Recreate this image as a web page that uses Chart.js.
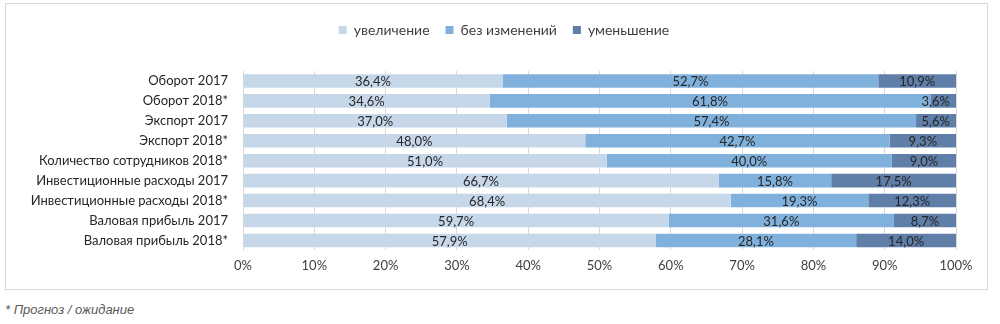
<!DOCTYPE html>
<html>
<head>
<meta charset="utf-8">
<script src="https://cdn.jsdelivr.net/npm/chart.js@4"></script>
<style>
  body { margin: 0; background: #fff; width: 1000px; height: 324px; overflow: hidden; }
  #box { position: absolute; left: 5px; top: 3px; width: 981px; height: 285px; border: 1px solid #d9d9d9; }
  #note { position: absolute; left: 5px; top: 302px; font: italic 13px "Liberation Sans", Arial, sans-serif; color: #595959; }
</style>
</head>
<body>
<div id="box"><canvas id="chart"></canvas></div>
<div id="note">* Прогноз / ожидание</div>
<script>
// --- DATA ---
const categories = [
    "Оборот 2017",
    "Оборот 2018*",
    "Экспорт 2017",
    "Экспорт 2018*",
    "Количество сотрудников 2018*",
    "Инвестиционные расходы 2017",
    "Инвестиционные расходы 2018*",
    "Валовая прибыль 2017",
    "Валовая прибыль 2018*"
];
const seriesNames = ["увеличение", "без изменений", "уменьшение"];
const increase = [36.4, 34.6, 37.0, 48.0, 51.0, 66.7, 68.4, 59.7, 57.9];
const noChange = [52.7, 61.8, 57.4, 42.7, 40.0, 15.8, 19.3, 31.6, 28.1];
const decrease = [10.9, 3.6, 5.6, 9.3, 9.0, 17.5, 12.3, 8.7, 14.0];
const xTicks = [0, 10, 20, 30, 40, 50, 60, 70, 80, 90, 100];

const FONT = "Lato, 'Noto Sans', sans-serif";
const COLORS = ['#c6d7ea', '#80b1dd', '#5f7ea8'];

// --- LABELS PLUGIN (value in the middle of each segment, kept inside the plot) ---
const segmentLabels = {
    id: 'segmentLabels',
    afterDatasetsDraw(chart) {
        const ctx = chart.ctx;
        const right = chart.chartArea.right;
        ctx.save();
        ctx.font = "13px " + FONT;
        ctx.fillStyle = '#262626';
        ctx.textAlign = 'center';
        ctx.textBaseline = 'middle';
        chart.data.datasets.forEach((ds, i) => {
            chart.getDatasetMeta(i).data.forEach((bar, j) => {
                const text = ds.data[j].toFixed(1).replace('.', ',') + '%';
                const w = ctx.measureText(text).width;
                const x = Math.min((bar.x + bar.base) / 2, right - w / 2 - 6);
                ctx.fillText(text, x, bar.y + 1);
            });
        });
        ctx.restore();
    }
};

// extra room under the legend, and legend nudged a bit to the right
const legendGap = {
    id: 'legendGap',
    beforeInit(chart) {
        const fit = chart.legend.fit;
        chart.legend.fit = function () {
            fit.bind(chart.legend)();
            this.height += 24;
        };
    },
    afterLayout(chart) {
        chart.legend.left += 23;
        chart.legend.right += 23;
    }
};

const chart = new Chart(document.getElementById("chart"), {
    type: "bar",
    data: {
        labels: categories,
        datasets: [increase, noChange, decrease].map((values, i) => ({
            label: seriesNames[i],
            data: values,
            backgroundColor: COLORS[i],
            borderWidth: 0,
            categoryPercentage: 0.68,
            barPercentage: 1
        }))
    },
    options: {
        indexAxis: 'y',
        animation: false,
        responsive: true,
        maintainAspectRatio: false,
        layout: { padding: { left: 0, right: 31, top: 3, bottom: 7 } },
        scales: {
            x: {
                stacked: true,
                min: 0,
                max: 100,
                afterBuildTicks: (axis) => { axis.ticks = xTicks.map(v => ({ value: v })); },
                border: { display: false },
                grid: { color: '#d9d9d9', drawTicks: false },
                ticks: {
                    padding: 8,
                    color: '#404040',
                    font: { family: FONT, size: 13 },
                    callback: (v) => v + '%'
                }
            },
            y: {
                stacked: true,
                afterFit: (axis) => { axis.width = 237; },
                border: { display: true, color: '#d9d9d9' },
                grid: { display: false, drawTicks: false },
                ticks: {
                    padding: 15,
                    color: '#262626',
                    font: { family: FONT, size: 13 }
                }
            }
        },
        plugins: {
            legend: {
                position: 'top',
                labels: {
                    boxWidth: 8,
                    boxHeight: 8,
                    padding: 16,
                    color: '#404040',
                    font: { family: FONT, size: 14 }
                }
            },
            tooltip: { enabled: false }
        }
    },
    plugins: [segmentLabels, legendGap]
});
</script>
</body>
</html>
